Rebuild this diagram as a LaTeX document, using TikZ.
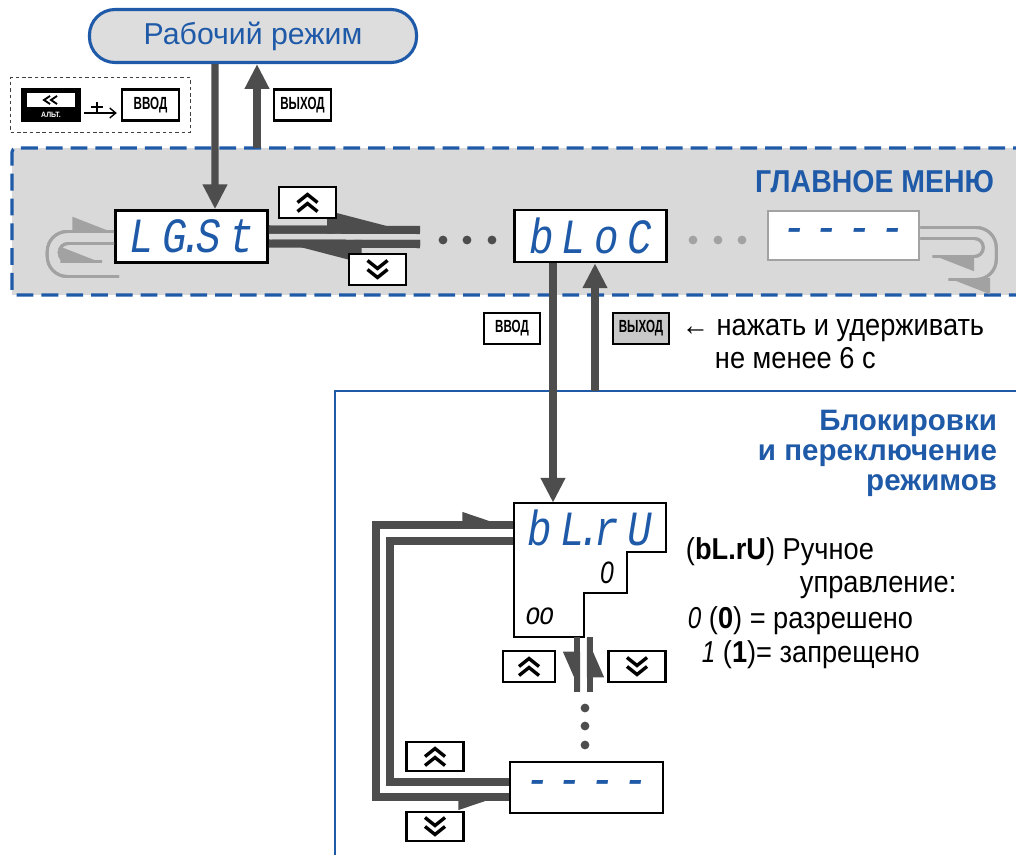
\documentclass[tikz,border=0pt]{standalone}
\usepackage{fontspec}
\setmainfont{Liberation Sans}[FakeStretch=0.9]
\newfontfamily\widefont{Liberation Sans}
\newfontfamily\keyfont{Liberation Sans}[FakeStretch=0.66]
\newfontfamily\segfont{Liberation Mono}[FakeStretch=0.83]
\newfontfamily\segdigit{Liberation Sans}[FakeStretch=0.8]
\usetikzlibrary{arrows.meta,calc,positioning,fit}
\definecolor{OwenBlue}{HTML}{1F5AA8}
\definecolor{FlowGrey}{HTML}{4D4D4D}
\definecolor{LoopGrey}{HTML}{A2A2A2}
\definecolor{MenuFill}{HTML}{D9D9D9}
\definecolor{PillFill}{HTML}{DDDDDD}
\definecolor{KeyGrey}{HTML}{C8C8C8}
\tikzset{
  every node/.style={font=\fontsize{21.5}{24}\selectfont, text=black},
  display/.style={draw=black, line width=1.8pt, fill=white, minimum width=3.8cm, minimum height=1.3cm, inner sep=0pt, font=\segfont\itshape\fontsize{35}{35}\selectfont, text=OwenBlue},
  key/.style={draw=black, line width=1.8pt, fill=white, minimum width=1.42cm, minimum height=0.78cm, inner sep=0pt, font=\keyfont\bfseries\fontsize{12.5}{12.5}\selectfont},
  chevron/.style={line width=2.4pt, line cap=butt, line join=miter},
  upkey/.style={key, path picture={\draw[chevron, shift={(path picture bounding box.center)}] (-10,0) -- (0,-8) -- (10,0) (-10,9) -- (0,1) -- (10,9);}},
  downkey/.style={key, path picture={\draw[chevron, shift={(path picture bounding box.center)}] (-10,0) -- (0,8) -- (10,0) (-10,-9) -- (0,-1) -- (10,-9);}},
  flow/.style={draw=FlowGrey, line width=5pt, -{Triangle[length=0.62cm, width=0.58cm]}},
  menuharp/.style={draw=FlowGrey, line width=5.7pt, postaction={draw=FlowGrey, line width=5.7pt, -{Triangle[harpoon, length=1.9cm, width=0.9cm]}}},
  scrollharp/.style={draw=FlowGrey, line width=4.3pt, postaction={draw=FlowGrey, line width=4.3pt, -{Triangle[harpoon, swap, length=0.82cm, width=0.66cm]}}},
  wrap/.style={draw=LoopGrey, line width=2.1pt, rounded corners=0.5cm},
  wraptip/.style={postaction={draw=LoopGrey, line width=2.1pt, -{Triangle[harpoon, length=0.95cm, width=0.72cm]}}},
  cycle/.style={draw=FlowGrey, line width=5pt},
  heading/.style={font=\bfseries\fontsize{22.5}{22.5}\selectfont, text=OwenBlue},
}

\begin{document}
\begin{tikzpicture}[x=0.025cm, y=-0.025cm]
  \useasboundingbox (0,0) rectangle (1016,854);
  % operating mode and the key combination
  \node[draw=OwenBlue, line width=2.2pt, fill=PillFill, rounded corners=0.64cm, minimum width=8.175cm, minimum height=1.325cm, font=\widefont\fontsize{21.5}{21.5}\selectfont, text=OwenBlue] (work) at (253,36) {Рабочий режим};
  \node[key, fill=black, minimum width=1.45cm, minimum height=0.8cm] (altkey) at (51,105) {};
  \node[fill=white, inner sep=0pt, minimum width=1.2cm, minimum height=0.35cm] (altface) at ($(altkey.center)+(0,-5)$) {};
  \draw[line width=1.3pt] ($(altface.center)+(-1,-4)$) -- ++(-6,4) -- ++(6,4) ($(altface.center)+(6,-4)$) -- ++(-6,4) -- ++(6,4);
  \node[font=\bfseries\fontsize{5.5}{5.5}\selectfont, text=white] (alttag) at ($(altkey.center)+(0,10)$) {АЛЬТ.};
  \node[key] (vvodkey) at (150.5,105) {ВВОД};
  \draw[line width=1pt, -{Straight Barb[length=0.15cm, width=0.25cm]}] ($(altkey.east)+(3,8)$) -- ($(vvodkey.west)+(-4,8)$);
  \draw[line width=1pt] ($(altkey.east)!0.4!(vvodkey.west)+(0,8)$) -- ++(0,-11) ++(-6,5) -- ++(12,0);
  \node[draw=black!75, line width=0.9pt, dash pattern=on 2.5pt off 2pt, fit=(altkey)(vvodkey), inner sep=0.25cm] (combo) {};
  \node[key] (exitkey) at (302.5,105) {ВЫХОД};

  % main menu
  \fill[MenuFill] (12,148) rectangle (1030,295);
  \draw[OwenBlue, line width=2.2pt, dash pattern=on 0.42cm off 0.2cm, rounded corners=0.1cm] (1030,148) -- (12,148) -- (12,295) -- (1030,295);
  \node[heading, anchor=east] (menutitle) at (999,182) {ГЛАВНОЕ МЕНЮ};
  \node[display] (lgst) at (191.5,236.5) {L\,G\kern-.15em.\kern-.15em S\,t};
  \node[display] (bloc) at (590.5,236) {b\,L\,o\,C};
  \node[display, draw=LoopGrey, minimum width=3.775cm, minimum height=1.225cm] (lastm) at (843.5,235.5) {-\,-\,-\,-};
  \coordinate (menugap) at (420,237);
  \coordinate (menutop) at (257,148);
  \draw[menuharp] ($(lgst.east)+(0,-7)$) -- ($(menugap)+(0,-7)$);
  \draw[menuharp] ($(menugap)+(0,7)$) -- ($(lgst.east)+(0,7)$);
  \node[upkey] (menuup) at (307.5,202.5) {};
  \node[downkey] (menudown) at (377.5,269.5) {};
  \foreach \x in {443,467,492}
    \fill[FlowGrey] (\x,240) circle (0.11cm);
  \foreach \x in {693,718,742}
    \fill[LoopGrey] (\x,240) circle (0.11cm);
  \draw[wrap, wraptip] ($(lgst.west)+(5,40)$) -- ++(-72,0) |- ($(lgst.west)+(0,-5)$);
  \draw[wrap, wraptip, rounded corners=0.22cm] ($(lgst.west)+(0,7)$) -- ++(-55,0) |- ($(lgst.west)+(-12,25)$);
  \draw[wrap, wraptip] ($(lastm.east)+(0,-8)$) -- ++(76,0) |- ($(lastm.east)+(28,44)$);
  \draw[wrap, wraptip, rounded corners=0.22cm] ($(lastm.east)+(0,3)$) -- ++(63,0) |- ($(lastm.east)+(12,21)$);
  \draw[flow] ($(work.south)+(-38,0)$) -- ($(lgst.north)+(23.5,0)$);
  \draw[flow] (menutop) -- (menutop |- work.south);

  % entering the lock group
  \node[key, minimum width=1.4cm] (vvodlock) at (512,328.5) {ВВОД};
  \node[key, fill=KeyGrey, minimum width=1.4cm] (exitlock) at (641,328.5) {ВЫХОД};
  \node[anchor=west] (hold) at (677,330) {← нажать и удерживать};
  \node[anchor=west] (holdtime) at (710,358) {не менее 6 с};
  \draw[OwenBlue, line width=1.8pt] (335,870) -- (335,391) -- (1030,391);
  \node[text=OwenBlue, font=\widefont\bfseries\fontsize{21}{21.3}\selectfont, align=right, anchor=north east] (locktitle) at (1002,405) {Блокировки\\и переключение\\режимов};
  \coordinate (locktop) at (595,391);

  % lock parameters
  \draw[cycle, postaction={draw=FlowGrey, line width=5pt, {Triangle[harpoon, swap, length=1cm, width=0.6cm]}-{Triangle[harpoon, length=1cm, width=0.6cm]}}] (510,797) -- (376,797) |- (514,525);
  \draw[cycle] (510,782) -- (390,782) |- (514,541);
  \draw[line width=1.8pt, fill=white] (514,503) -- (666,503) -- (666,552) -- (627,552) -- (627,593) -- (584,593) -- (584,637) -- (514,637) -- cycle;
  \node[minimum width=3.8cm, minimum height=1.225cm, inner sep=0pt, font=\segfont\itshape\fontsize{35}{35}\selectfont, text=OwenBlue] (blru) at (590,527.5) {b\,L\kern-.15em.\kern-.15em r\,U};
  \node[font=\segdigit\itshape\fontsize{22}{22}\selectfont] (blruval) at (607,573) {0};
  \node[font=\segfont\itshape\fontsize{22}{22}\selectfont] (blrumode) at (540,616) {o\kern-.05em o};
  \draw[flow] ($(bloc.south)+(-37.5,0)$) -- ($(blru.north)+(-37,0)$);
  \draw[flow] (locktop) -- (locktop |- bloc.south);
  \coordinate (oostep) at (584,637);
  \coordinate (scrollend) at (584,692);
  \draw[scrollharp] ($(oostep)+(-7,0)$) -- ($(scrollend)+(-7,0)$);
  \draw[scrollharp] ($(scrollend)+(6,0)$) -- ($(oostep)+(6,0)$);
  \node[upkey, minimum width=1.3cm] (lockup) at (529,666.5) {};
  \node[downkey] (lockdown) at (637,666.5) {};
  \foreach \y in {708,726,745}
    \fill[FlowGrey] (585,\y) circle (0.11cm);
  \node[display, minimum width=3.825cm, minimum height=1.275cm] (lastlock) at (586.5,787.5) {-\,-\,-\,-};
  \node[upkey, minimum height=0.73cm] (cycleup) at (435,756.5) {};
  \node[downkey, minimum height=0.73cm] (cycledown) at (435,826.5) {};

  % description
  \node[anchor=west] (desc) at (681,552) {(\textbf{bL.rU}) Ручное};
  \node[anchor=west] (descb) at (795,587) {управление:};
  \node[anchor=west] (allow) at (683,621) {{\segdigit\itshape 0} (\textbf{0}) = разрешено};
  \node[anchor=west] (deny) at (697,655) {{\segdigit\itshape 1} (\textbf{1})= запрещено};
\end{tikzpicture}
\end{document}
